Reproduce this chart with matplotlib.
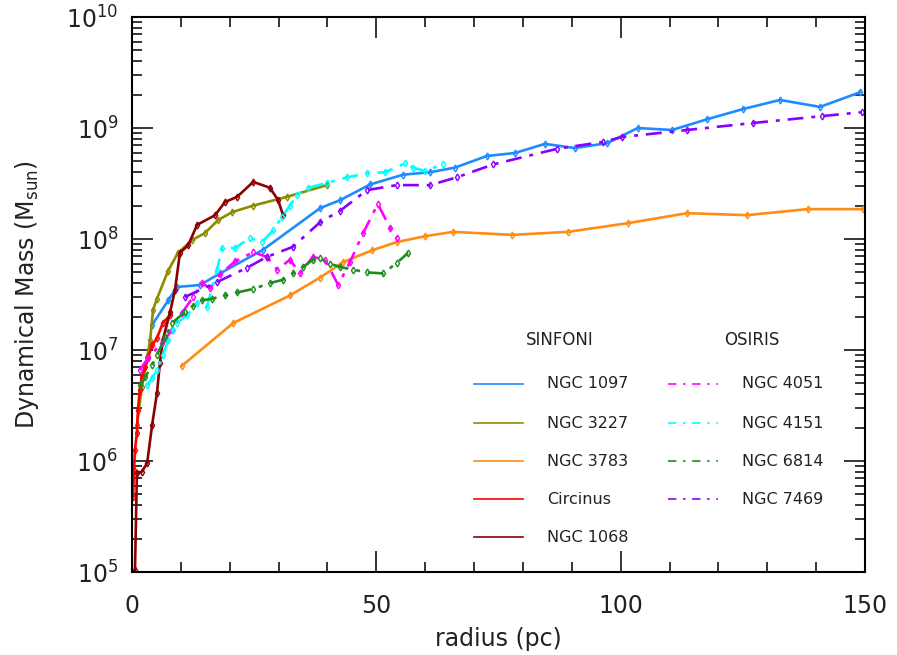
import matplotlib
matplotlib.use("Agg")
import matplotlib.pyplot as plt
from matplotlib.ticker import MultipleLocator, LogLocator, NullFormatter

# ---------------- data (radius in pc, dynamical mass in Msun) ----------------
r_1097 = [4.1, 7.4, 9.2, 13.9, 18.0, 26.8, 38.5, 42.6, 48.7, 55.5, 61.0, 66.1, 72.6, 78.4,
          84.5, 90.6, 97.2, 103.5, 110.5, 117.7, 125.0, 132.6, 140.8, 149.0]
m_1097 = [1.68e7, 2.8e7, 3.7e7, 3.85e7, 4.9e7, 8.0e7, 1.9e8, 2.24e8, 3.1e8, 3.8e8, 4.0e8, 4.4e8,
          5.6e8, 5.96e8, 7.2e8, 6.6e8, 7.3e8, 1.0e9, 9.6e8, 1.2e9, 1.48e9, 1.79e9, 1.55e9, 2.1e9]

r_3227 = [1.0, 2.0, 3.1, 3.7, 4.3, 5.1, 7.4, 9.4, 12.3, 14.9, 17.6, 20.5, 24.8, 31.7, 39.9]
m_3227 = [2.1e6, 4.6e6, 8.6e6, 1.23e7, 2.3e7, 2.9e7, 5.2e7, 7.5e7, 9.8e7, 1.13e8, 1.48e8,
          1.75e8, 2.0e8, 2.4e8, 3.06e8]

r_3783 = [10.2, 20.7, 32.3, 38.5, 43.2, 49.1, 54.2, 60.0, 65.7, 77.8, 89.2, 101.5, 113.6,
          125.8, 138.3, 149.6]
m_3783 = [7.2e6, 1.75e7, 3.1e7, 4.5e7, 6.2e7, 7.9e7, 9.4e7, 1.06e8, 1.16e8, 1.09e8, 1.16e8,
          1.39e8, 1.71e8, 1.64e8, 1.86e8, 1.86e8]

r_circ = [0.2, 0.4, 0.6, 1.0, 1.2, 1.6, 2.0, 2.7, 3.3, 4.1, 5.1, 6.3, 7.8]
m_circ = [4.7e5, 8.3e5, 1.26e6, 1.8e6, 2.9e6, 4.4e6, 5.7e6, 7.0e6, 8.6e6, 1.1e7, 1.28e7,
          1.75e7, 2.07e7]

r_1068 = [0.6, 1.0, 2.0, 3.1, 4.1, 5.1, 5.7, 6.3, 7.8, 8.8, 9.8, 11.5, 13.3, 17.0, 19.0,
          21.5, 24.8, 28.2, 29.9, 30.9]
m_1068 = [1.04e5, 7.8e5, 8.0e5, 9.6e5, 2.1e6, 4.1e6, 7.6e6, 1.23e7, 2.2e7, 3.5e7, 7.5e7,
          8.8e7, 1.34e8, 1.64e8, 2.15e8, 2.4e8, 3.27e8, 2.9e8, 2.24e8, 1.64e8]

r_4051 = [1.6, 3.3, 6.1, 8.2, 10.2, 12.5, 14.3, 16.0, 18.0, 21.1, 24.8, 27.6, 29.7, 32.3,
          34.4, 37.0, 39.5, 42.2, 44.6, 47.3, 50.3, 52.8, 54.2]
m_4051 = [6.6e6, 8.5e6, 1.16e7, 1.51e7, 2.15e7, 3.0e7, 4.0e7, 3.6e7, 4.8e7, 6.3e7, 7.6e7,
          6.9e7, 5.3e7, 6.5e7, 4.9e7, 6.9e7, 6.5e7, 3.85e7, 6.2e7, 1.13e8, 2.07e8, 1.26e8, 1.02e8]

r_4151 = [3.1, 4.1, 5.1, 6.3, 7.4, 8.4, 9.2, 11.3, 13.3, 15.3, 17.4, 18.4, 21.1, 24.1, 26.6,
          28.9, 30.7, 32.3, 33.8, 36.0, 39.9, 44.0, 48.1, 51.8, 55.9, 57.5, 60.0, 63.6]
m_4151 = [4.8e6, 5.6e6, 6.6e6, 9.0e6, 1.23e7, 1.51e7, 1.75e7, 2.07e7, 2.65e7, 2.44e7, 5.3e7,
          8.3e7, 8.3e7, 1.02e8, 9.4e7, 1.2e8, 1.58e8, 2.0e8, 2.5e8, 2.9e8, 3.2e8, 3.6e8, 3.9e8,
          4.0e8, 4.8e8, 4.4e8, 4.1e8, 4.7e8]

r_6814 = [1.6, 2.7, 4.1, 5.1, 6.8, 8.2, 10.8, 12.5, 14.3, 16.4, 19.0, 21.5, 24.8, 28.2, 30.9,
          32.9, 35.0, 37.0, 38.5, 40.5, 42.6, 45.2, 48.1, 51.4, 54.2, 56.5]
m_6814 = [4.8e6, 5.7e6, 7.3e6, 9.0e6, 1.31e7, 1.75e7, 2.2e7, 2.5e7, 2.8e7, 2.9e7, 3.1e7, 3.3e7,
          3.55e7, 4.0e7, 4.3e7, 4.9e7, 5.6e7, 6.5e7, 6.7e7, 6.0e7, 5.6e7, 5.3e7, 5.0e7, 4.9e7,
          6.1e7, 7.5e7]

r_7469 = [10.8, 17.4, 23.5, 27.6, 32.9, 38.5, 42.6, 48.1, 54.2, 61.0, 66.5, 73.9, 87.0, 96.4,
          100.3, 113.6, 127.1, 141.2, 149.4]
m_7469 = [3.0e7, 4.1e7, 5.5e7, 6.9e7, 8.5e7, 1.42e8, 1.8e8, 2.76e8, 3.06e8, 3.06e8, 3.6e8,
          4.7e8, 6.5e8, 7.5e8, 8.3e8, 9.6e8, 1.11e9, 1.28e9, 1.39e9]

sinfoni_names = ["NGC 1097", "NGC 3227", "NGC 3783", "Circinus", "NGC 1068"]
osiris_names = ["NGC 4051", "NGC 4151", "NGC 6814", "NGC 7469"]

# ---------------- styles ----------------
sinfoni = [
    (r_1097, m_1097, "#1E8CFF"),
    (r_3227, m_3227, "#8C8C00"),
    (r_3783, m_3783, "#FF8C14"),
    (r_circ, m_circ, "#FF0000"),
    (r_1068, m_1068, "#8B0000"),
]
osiris = [
    (r_4051, m_4051, "#FF00FF"),
    (r_4151, m_4151, "#00FFFF"),
    (r_6814, m_6814, "#1E8C1E"),
    (r_7469, m_7469, "#8A00FF"),
]
dashdot = (0, (6, 3, 1.5, 3))

fig = plt.figure(figsize=(8.97, 6.55), dpi=100)
ax = fig.add_axes([0.1472, 0.1267, 0.8171, 0.8473])

for r, m, c in sinfoni:
    ax.plot(r, m, color=c, lw=1.9, marker="d", ms=3.5, mfc="none", mew=1.0)
for r, m, c in osiris:
    ax.plot(r, m, color=c, lw=1.9, ls=dashdot, marker="d", ms=3.5, mfc="none", mew=1.0)

ax.set_yscale("log")
ax.set_xlim(0, 150)
ax.set_ylim(1e5, 1e10)
ax.xaxis.set_major_locator(MultipleLocator(50))
ax.xaxis.set_minor_locator(MultipleLocator(10))
ax.yaxis.set_major_locator(LogLocator(base=10, numticks=10))
ax.yaxis.set_minor_locator(LogLocator(base=10, subs=range(2, 10), numticks=20))
ax.yaxis.set_minor_formatter(NullFormatter())

ax.tick_params(which="both", direction="in", top=True, right=True, width=1.1,
               labelsize=17, colors="black", labelcolor="#222222")
ax.tick_params(which="major", length=15, pad=10)
ax.tick_params(axis="x", which="major", pad=16)
ax.tick_params(which="minor", length=7)
for sp in ax.spines.values():
    sp.set_linewidth(1.5)

ax.set_xlabel("radius (pc)", fontsize=17, labelpad=6, color="#222222")
ax.set_ylabel("Dynamical Mass (M$_{\\mathrm{sun}}$)", fontsize=17, labelpad=18, color="#222222")

# ---------------- legend (drawn as text and lines in pixel fractions) ----------------
def fx(px):
    return px / 897.0

def fy(py):
    return 1 - py / 655.0

fig.text(fx(560), fy(340), "SINFONI", fontsize=12, ha="center", va="center", color="#222222")
fig.text(fx(752), fy(340), "OSIRIS", fontsize=12, ha="center", va="center", color="#222222")
ys_s = [384, 423, 461, 499, 537]
for (r, m, c), name, yy in zip(sinfoni, sinfoni_names, ys_s):
    fig.add_artist(plt.Line2D([fx(474), fx(523)], [fy(yy), fy(yy)], color=c, lw=1.2,
                              transform=fig.transFigure))
    fig.text(fx(547), fy(yy), name, fontsize=11.5, ha="left", va="center", color="#222222")
ys_o = [384, 423, 461, 499]
for (r, m, c), name, yy in zip(osiris, osiris_names, ys_o):
    fig.add_artist(plt.Line2D([fx(668), fx(718)], [fy(yy), fy(yy)], color=c, lw=1.2,
                              ls=(0, (5, 4, 1.5, 4)), transform=fig.transFigure))
    fig.text(fx(742), fy(yy), name, fontsize=11.5, ha="left", va="center", color="#222222")

fig.savefig("out.png", dpi=100)
